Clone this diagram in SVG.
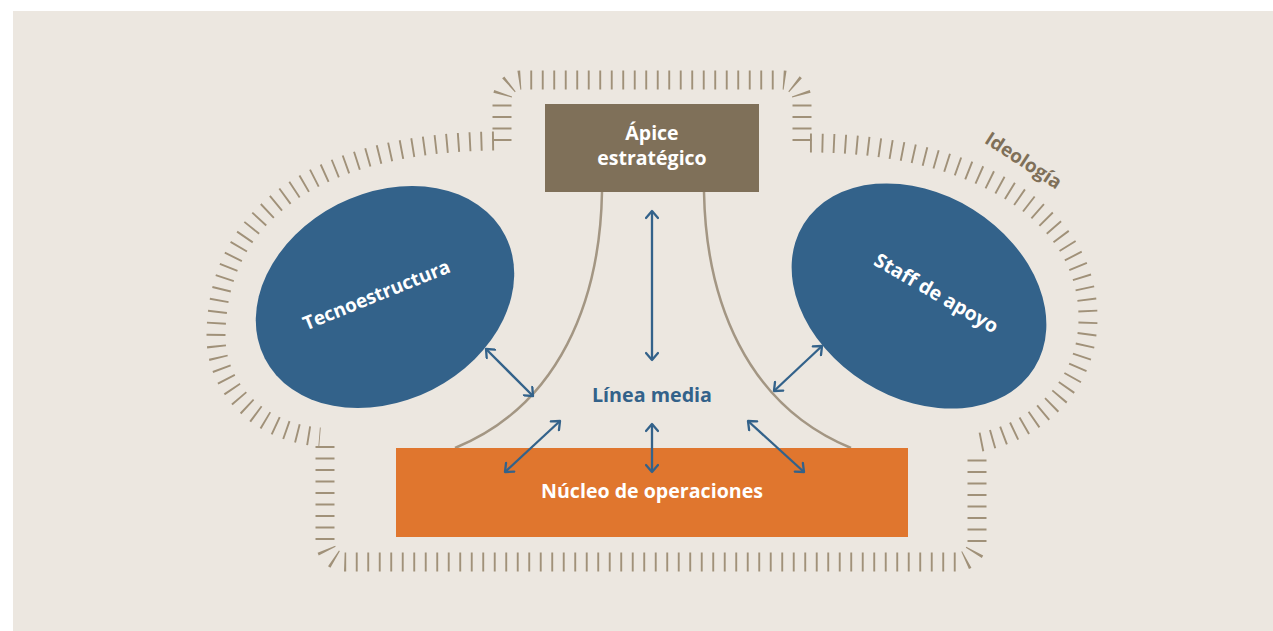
<svg xmlns="http://www.w3.org/2000/svg" width="1273" height="631" viewBox="0 0 1273 631">
  <defs>
    <style>
      .bg { fill: #ece7e0; }
      .hatch { fill: none; stroke: #a09179; stroke-width: 19; stroke-dasharray: 1.9 9.6; }
      .wall { fill: none; stroke: #a39683; stroke-width: 2.5; }
      .link { fill: none; stroke: #33628a; stroke-width: 2.3; marker-start: url(#head); marker-end: url(#head); }
      .lbl { font-family: "Open Sans", "Noto Sans", sans-serif; font-weight: 700; text-anchor: middle; }
      .white { fill: #ffffff; }
    </style>
    <marker id="head" viewBox="-10 -7 12 14" markerWidth="12" markerHeight="14" refX="0" refY="0" orient="auto-start-reverse" markerUnits="userSpaceOnUse">
      <path d="M -7 -6 L 0 0 L -7 6" fill="none" stroke="#33628a" stroke-width="2.3" stroke-linecap="round" stroke-linejoin="round"/>
    </marker>
  </defs>

  <rect class="bg" x="13" y="11" width="1260" height="620"/>

  <g id="ideologia">
    <path class="hatch" d="M 502 141 L 502 100 A 20 20 0 0 1 522 80 L 782 80 A 20 20 0 0 1 802 100 L 802 141"/>
    <path class="hatch" d="M 494 141 C 330 143 216 205 216 337 C 216 385 255 432 320 437"/>
    <path class="hatch" d="M 810 143 C 960 143 1088 205 1088 318 C 1088 390 1030 435 975 443"/>
    <path class="hatch" d="M 325 446 L 325 542 A 20 20 0 0 0 345 562 L 957 562 A 20 20 0 0 0 977 542 L 977 453"/>
    <text class="lbl" x="1020" y="166" font-size="19" fill="#7f7059" transform="rotate(33 1020 166)">Ideología</text>
  </g>

  <g id="walls">
    <path class="wall" d="M 602 192 C 600 300 560 405 455 448"/>
    <path class="wall" d="M 704 192 C 706 300 746 405 851 448"/>
  </g>

  <g id="apice">
    <rect x="545" y="104" width="214" height="88" fill="#7f7059"/>
    <text class="lbl white" x="652" y="140" font-size="19.5">Ápice</text>
    <text class="lbl white" x="652" y="165" font-size="19.5">estratégico</text>
  </g>

  <g id="tecnoestructura">
    <ellipse cx="385" cy="297" rx="135" ry="104" transform="rotate(-27 385 297)" fill="#33628a"/>
    <text class="lbl white" x="379" y="301" font-size="19" transform="rotate(-22 379 301)">Tecnoestructura</text>
  </g>

  <g id="staff">
    <ellipse cx="919" cy="296" rx="136" ry="102" transform="rotate(32 919 296)" fill="#33628a"/>
    <text class="lbl white" x="933" y="299" font-size="19.5" transform="rotate(30 933 299)">Staff de apoyo</text>
  </g>

  <g id="nucleo">
    <rect x="396" y="448" width="512" height="89" fill="#e0762e"/>
    <text class="lbl white" x="652" y="498" font-size="19.6">Núcleo de operaciones</text>
  </g>

  <g id="linea-media">
    <text class="lbl" x="652" y="402" font-size="19.7" fill="#33628a">Línea media</text>
  </g>

  <g id="connectors">
    <line class="link" x1="652" y1="211" x2="652" y2="360"/>
    <line class="link" x1="652" y1="424" x2="652" y2="472"/>
    <line class="link" x1="486" y1="349" x2="533" y2="396"/>
    <line class="link" x1="822" y1="346" x2="774" y2="391"/>
    <line class="link" x1="560" y1="421" x2="505" y2="472"/>
    <line class="link" x1="748" y1="421" x2="804" y2="472"/>
  </g>
</svg>
